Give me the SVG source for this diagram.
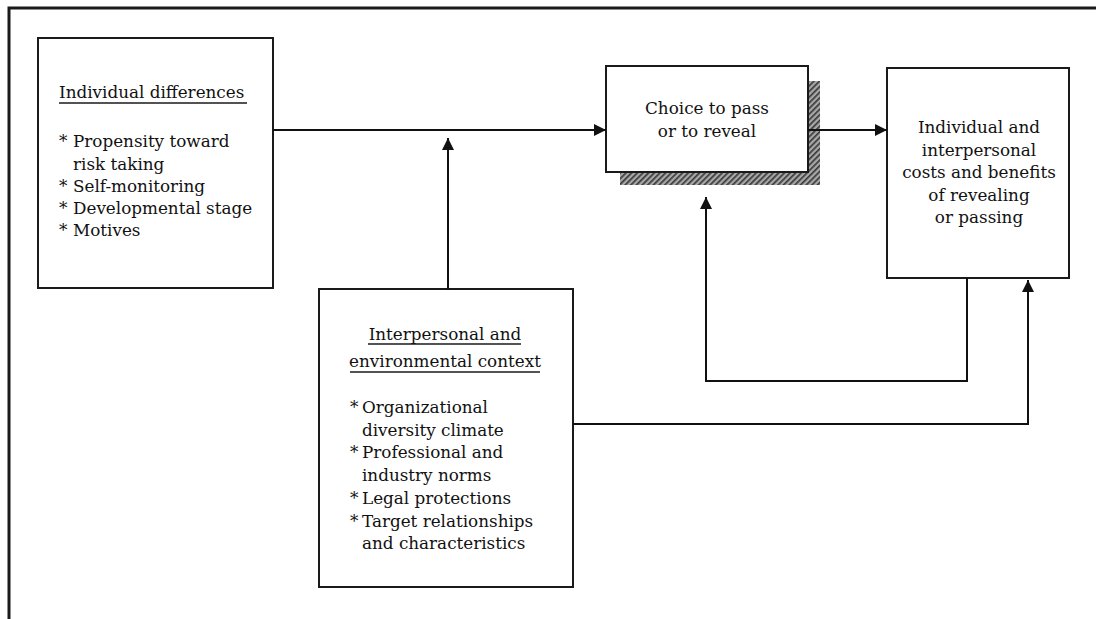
<svg xmlns="http://www.w3.org/2000/svg" width="1096" height="619" viewBox="0 0 1096 619">
  <style>
    .box { fill: #fff; stroke: #1a1a1a; stroke-width: 2; }
    .conn { fill: none; stroke: #111; stroke-width: 2; }
    .frame { fill: none; stroke: #1a1a1a; stroke-width: 3; }
    .t { font-family: "DejaVu Serif", "Liberation Serif", serif; font-size: 16.8px; fill: #111; }
    .c { text-anchor: middle; }
    .ul { stroke: #1a1a1a; stroke-width: 1.4; }
  </style>
  <defs>
    <marker id="arr" markerUnits="userSpaceOnUse" markerWidth="13" markerHeight="13" refX="12" refY="6" orient="auto">
      <path d="M0,0 L12,6 L0,12 z" fill="#111"/>
    </marker>
    <pattern id="hatch" patternUnits="userSpaceOnUse" width="4" height="4" patternTransform="rotate(45)">
      <rect width="4" height="4" fill="#a8a8a8"/>
      <rect width="1.7" height="4" fill="#3a3a3a"/>
    </pattern>
  </defs>
  <rect width="1096" height="619" fill="#fff"/>
  <path class="frame" d="M9,619 V8 H1096"/>

  <g id="individual-differences">
    <rect class="box" x="38" y="38" width="235" height="250"/>
    <text class="t" x="59" y="98">Individual differences</text>
    <line class="ul" x1="59" y1="103" x2="247" y2="103"/>
    <text class="t" x="59" y="147">*</text>
    <text class="t" x="73" y="147">Propensity toward</text>
    <text class="t" x="73" y="169.5">risk taking</text>
    <text class="t" x="59" y="192">*</text>
    <text class="t" x="73" y="192">Self-monitoring</text>
    <text class="t" x="59" y="214">*</text>
    <text class="t" x="73" y="214">Developmental stage</text>
    <text class="t" x="59" y="236">*</text>
    <text class="t" x="73" y="236">Motives</text>
  </g>

  <g id="choice">
    <rect x="620" y="81" width="200" height="104" fill="url(#hatch)"/>
    <rect class="box" x="606" y="66" width="202" height="106"/>
    <text class="t c" x="707" y="114">Choice to pass</text>
    <text class="t c" x="707" y="137">or to reveal</text>
  </g>

  <g id="costs-benefits">
    <rect class="box" x="887" y="68" width="182" height="210"/>
    <text class="t c" x="979" y="133">Individual and</text>
    <text class="t c" x="979" y="155.5">interpersonal</text>
    <text class="t c" x="979" y="178">costs and benefits</text>
    <text class="t c" x="979" y="200.5">of revealing</text>
    <text class="t c" x="979" y="223">or passing</text>
  </g>

  <g id="context">
    <rect class="box" x="319" y="289" width="254" height="298"/>
    <text class="t c" x="445" y="340">Interpersonal and</text>
    <line class="ul" x1="368" y1="344" x2="521" y2="344"/>
    <text class="t c" x="445" y="367">environmental context</text>
    <line class="ul" x1="350" y1="372" x2="540" y2="372"/>
    <text class="t" x="350" y="413">*</text>
    <text class="t" x="362" y="413">Organizational</text>
    <text class="t" x="362" y="436">diversity climate</text>
    <text class="t" x="350" y="458">*</text>
    <text class="t" x="362" y="458">Professional and</text>
    <text class="t" x="362" y="481">industry norms</text>
    <text class="t" x="350" y="504">*</text>
    <text class="t" x="362" y="504">Legal protections</text>
    <text class="t" x="350" y="527">*</text>
    <text class="t" x="362" y="527">Target relationships</text>
    <text class="t" x="362" y="549">and characteristics</text>
  </g>

  <g id="connectors">
    <line class="conn" x1="273" y1="130" x2="606" y2="130" marker-end="url(#arr)"/>
    <line class="conn" x1="808" y1="130" x2="887" y2="130" marker-end="url(#arr)"/>
    <line class="conn" x1="448" y1="289" x2="448" y2="138" marker-end="url(#arr)"/>
    <polyline class="conn" points="967,278 967,381 706,381 706,197" marker-end="url(#arr)"/>
    <polyline class="conn" points="573,424 1028,424 1028,280" marker-end="url(#arr)"/>
  </g>
</svg>
